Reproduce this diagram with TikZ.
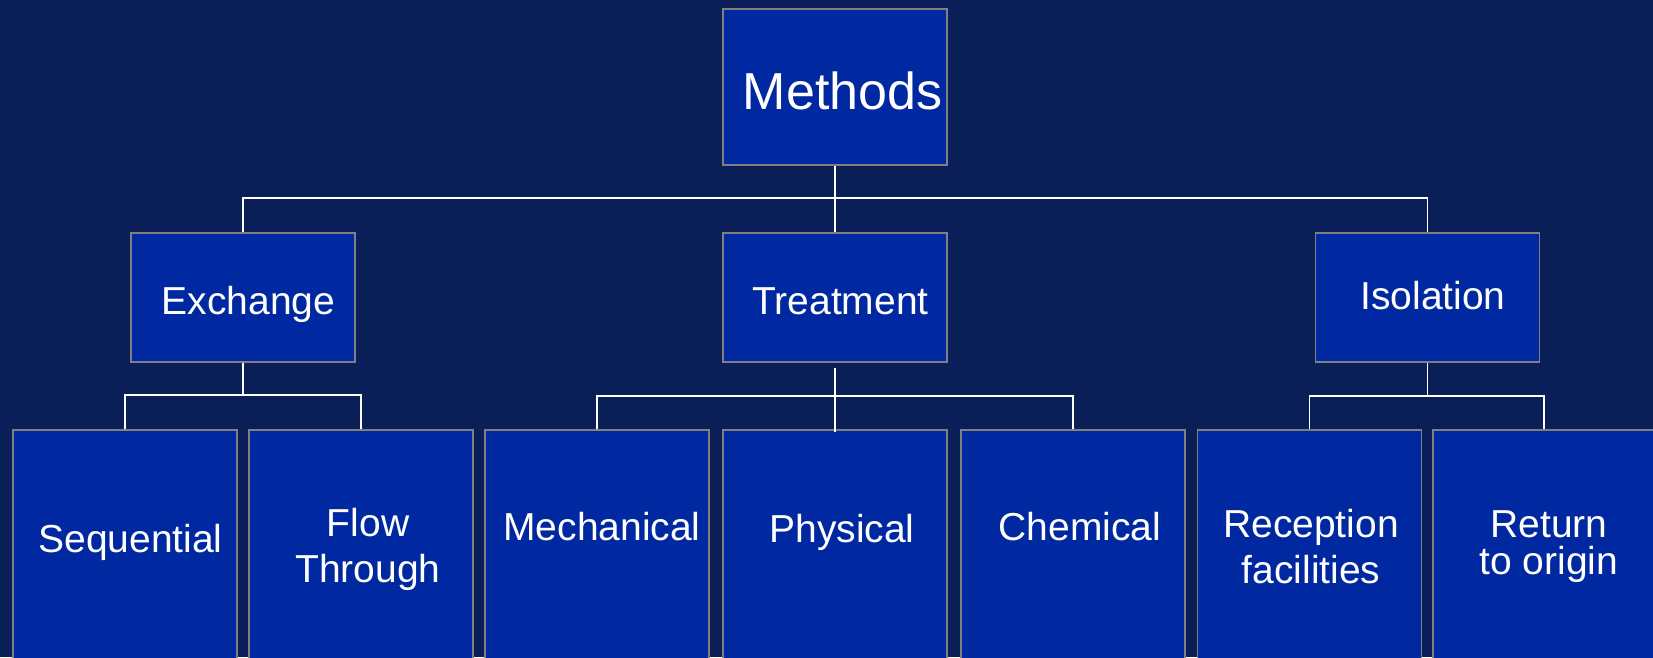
\documentclass[tikz,border=0pt]{standalone}
\usepackage{fontspec}
\setmainfont{Liberation Sans}
\definecolor{navybg}{RGB}{10,30,88}
\definecolor{boxblue}{RGB}{0,40,160}
\definecolor{boxrim}{RGB}{128,128,128}

\begin{document}
\begin{tikzpicture}[x=1pt, y=-1pt,
	box/.style={draw=boxrim, line width=1.2pt, fill=boxblue, minimum width=224pt, inner sep=0pt},
	lbl/.style={text=white, anchor=north, inner sep=0pt, align=center, font=\fontsize{39}{46}\selectfont},
	wire/.style={draw=white, line width=1.4pt},
	trunk/.style={draw=white, line width=2.6pt}]
	% Page and background:
	\useasboundingbox (0, 0) rectangle (1653, 657);
	\fill[navybg] (0, 0) rectangle (1653, 657);
	\clip (0, 0) rectangle (1653, 657);
	% Boxes:
	\node[box, minimum height=156pt] (methods) at (835, 87) {};
	\node[box, minimum height=129pt] (exchange) at (243, 297.5) {};
	\node[box, minimum height=129pt] (treatment) at (835, 297.5) {};
	\node[box, minimum height=129pt] (isolation) at (1427.5, 297.5) {};
	\node[box, minimum height=250pt] (sequential) at (125, 555) {};
	\node[box, minimum height=250pt] (flow) at (361, 555) {};
	\node[box, minimum height=250pt] (mechanical) at (597, 555) {};
	\node[box, minimum height=250pt] (physical) at (835, 555) {};
	\node[box, minimum height=250pt] (chemical) at (1073, 555) {};
	\node[box, minimum height=250pt] (reception) at (1309.5, 555) {};
	\node[box, minimum height=250pt] (return) at (1545, 555) {};
	% Labels:
	\node[lbl, font=\fontsize{52}{60}\selectfont] (methodsT) at (842.5, 72) {Methods};
	\node[lbl] (exchangeT) at (248.5, 286) {Exchange};
	\node[lbl] (treatmentT) at (840.5, 287) {Treatment};
	\node[lbl] (isolationT) at (1433, 281) {Isolation};
	\node[lbl] (sequentialT) at (130.5, 524) {Sequential};
	\node[lbl] (flowT) at (368, 508) {Flow\\Through};
	\node[lbl] (mechanicalT) at (602, 512) {Mechanical};
	\node[lbl] (physicalT) at (842, 514) {Physical};
	\node[lbl] (chemicalT) at (1080, 512) {Chemical};
	\node[lbl] (receptionT) at (1311, 509) {Reception\\facilities};
	\node[lbl] (returnT) at (1549, 510) {Return\\[-9pt]to origin};
	% Wires:
	\coordinate (topbus) at (835, 198);
	\coordinate (exbus) at (243, 395);
	\coordinate (trbus) at (835, 396);
	\coordinate (isbus) at (1427.5, 396);
	\draw[trunk] (methods.south) -- (treatment.north);
	\draw[wire] (exchange.north) |- (topbus) -| (isolation.north);
	\draw[wire] (exchange.south) -- (exbus);
	\draw[wire] (sequential.north) |- (exbus) -| (flow.north);
	\draw[wire] (mechanical.north) |- (trbus) -| (chemical.north);
	\draw[trunk] ([yshift=-5pt]treatment.south) -- ([yshift=-3pt]physical.north);
	\draw[wire] (isolation.south) -- (isbus);
	\draw[wire] (reception.north) |- (isbus) -| ([xshift=-1pt]return.north);
\end{tikzpicture}
\end{document}
